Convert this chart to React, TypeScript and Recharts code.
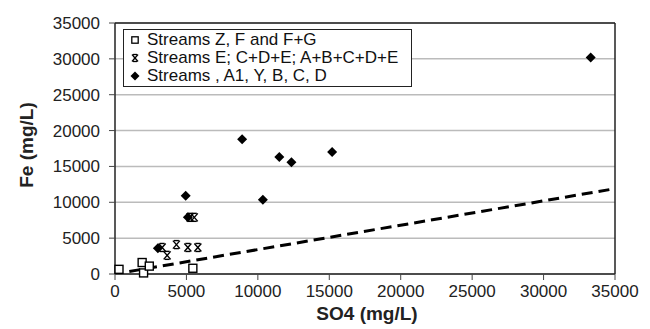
import React from 'react'
import {
  ScatterChart, Scatter, XAxis, YAxis, CartesianGrid, Legend, Label, ReferenceLine,
} from 'recharts'

// values
const streamsZFG = [
  { x: 280, y: 650 },
  { x: 1900, y: 1600 },
  { x: 2000, y: 150 },
  { x: 2400, y: 1100 },
  { x: 5450, y: 800 },
]

const streamsECDE = [
  { x: 3300, y: 3700 },
  { x: 3650, y: 2600 },
  { x: 4300, y: 4100 },
  { x: 5100, y: 3700 },
  { x: 5800, y: 3700 },
  { x: 5250, y: 7900 },
  { x: 5550, y: 7900 },
]

const streamsA1YBCD = [
  { x: 3000, y: 3600 },
  { x: 4950, y: 10900 },
  { x: 5100, y: 7900 },
  { x: 8900, y: 18800 },
  { x: 10350, y: 10350 },
  { x: 11500, y: 16300 },
  { x: 12350, y: 15600 },
  { x: 15200, y: 17000 },
  { x: 33300, y: 30200 },
]

const trendLine = [
  { x: 1000, y: 350 },
  { x: 35000, y: 11900 },
]

const ticks = [0, 5000, 10000, 15000, 20000, 25000, 30000, 35000]

const seriesNames = [
  'Streams Z, F and F+G',
  'Streams E; C+D+E; A+B+C+D+E',
  'Streams , A1, Y, B, C, D',
]

const FONT = '"Liberation Sans", Arial, sans-serif'

function OpenSquare(p: any) {
  return <rect x={p.cx - 4} y={p.cy - 4} width={8} height={8} fill="#fff" stroke="#000" strokeWidth={1.4} />
}

function StarX(p: any) {
  const { cx, cy } = p
  return (
    <g stroke="#000" strokeWidth={1.4}>
      <line x1={cx - 3.5} y1={cy - 4} x2={cx + 3.5} y2={cy + 4} />
      <line x1={cx + 3.5} y1={cy - 4} x2={cx - 3.5} y2={cy + 4} />
      <line x1={cx - 2.5} y1={cy - 4} x2={cx + 2.5} y2={cy - 4} />
      <line x1={cx - 2.5} y1={cy + 4} x2={cx + 2.5} y2={cy + 4} />
    </g>
  )
}

function Diamond(p: any) {
  const { cx, cy } = p
  return <polygon points={`${cx},${cy - 5} ${cx + 5},${cy} ${cx},${cy + 5} ${cx - 5},${cy}`} fill="#000" />
}

function NoDot() {
  return <g />
}

function LegendIcon({ i }: { i: number }) {
  const s = 3.2
  let mark
  if (i === 0) {
    mark = <rect x={6 - s} y={9 - s} width={2 * s} height={2 * s} fill="#fff" stroke="#000" strokeWidth={1.3} />
  } else if (i === 1) {
    mark = (
      <g stroke="#000" strokeWidth={1.3}>
        <line x1={3} y1={5.5} x2={9} y2={12.5} />
        <line x1={9} y1={5.5} x2={3} y2={12.5} />
        <line x1={4} y1={5.5} x2={8} y2={5.5} />
        <line x1={4} y1={12.5} x2={8} y2={12.5} />
      </g>
    )
  } else {
    mark = <polygon points="6,4.5 10.5,9 6,13.5 1.5,9" fill="#000" />
  }
  return (
    <svg width={12} height={18} style={{ display: 'block', flex: 'none', marginRight: 6 }}>
      {mark}
    </svg>
  )
}

function LegendBox() {
  return (
    <div style={{
      border: '1px solid #222', background: '#fff', padding: '1px 6px 1px 5px',
      fontFamily: FONT, fontSize: 17, lineHeight: '18px', color: '#111', width: 276,
      boxSizing: 'content-box', textAlign: 'left',
    }}>
      {seriesNames.map((name, i) => (
        <div key={name} style={{ display: 'flex', alignItems: 'center', height: 18, whiteSpace: 'nowrap' }}>
          <LegendIcon i={i} />
          <span>{name}</span>
        </div>
      ))}
    </div>
  )
}

const tickStyle = { fontSize: 17, fill: '#222', fontFamily: FONT }

export default function App() {
  return (
    <div style={{ position: 'absolute', left: 0, top: 0, background: '#fff' }}>
      <ScatterChart width={650} height={329} margin={{ top: 23, right: 35, bottom: 25, left: 55 }}>
        <CartesianGrid horizontal vertical={false} stroke="#bbb" strokeWidth={1.5} />
        <XAxis
          type="number" dataKey="x" domain={[0, 35000]} ticks={ticks} interval={0}
          tick={tickStyle} tickSize={6} tickMargin={5} height={30}
          axisLine={{ stroke: '#222', strokeWidth: 1.5 }} tickLine={{ stroke: '#444' }}
        >
          <Label
            content={() => (
              <text x={367} y={320} textAnchor="middle" fontFamily={FONT} fontWeight="bold" fontSize={19} fill="#222">
                SO4 (mg/L)
              </text>
            )}
          />
        </XAxis>
        <YAxis
          type="number" dataKey="y" domain={[0, 35000]} ticks={ticks} interval={0}
          tick={tickStyle} tickSize={6} tickMargin={9} width={60}
          axisLine={{ stroke: '#222', strokeWidth: 1.5 }} tickLine={{ stroke: '#444' }}
        >
          <Label
            content={() => (
              <text x={33} y={145} transform="rotate(-90 33 145)" textAnchor="middle"
                fontFamily={FONT} fontWeight="bold" fontSize={19} fill="#222">
                Fe (mg/L)
              </text>
            )}
          />
        </YAxis>
        <ReferenceLine y={35000} stroke="#222" strokeWidth={1.5} />
        <ReferenceLine x={35000} stroke="#222" strokeWidth={1.5} />
        <Legend
          layout="vertical" align="center" verticalAlign="middle"
          content={() => <LegendBox />}
          wrapperStyle={{ position: 'absolute', left: 123, top: 29, width: 'auto', height: 'auto' }}
        />
        <Scatter
          data={trendLine} line={{ stroke: '#000', strokeWidth: 3, strokeDasharray: '11 6' }}
          shape={NoDot} legendType="none" isAnimationActive={false}
        />
        <Scatter name={seriesNames[0]} data={streamsZFG} shape={OpenSquare} isAnimationActive={false} />
        <Scatter name={seriesNames[1]} data={streamsECDE} shape={StarX} isAnimationActive={false} />
        <Scatter name={seriesNames[2]} data={streamsA1YBCD} shape={Diamond} isAnimationActive={false} />
      </ScatterChart>
    </div>
  )
}
